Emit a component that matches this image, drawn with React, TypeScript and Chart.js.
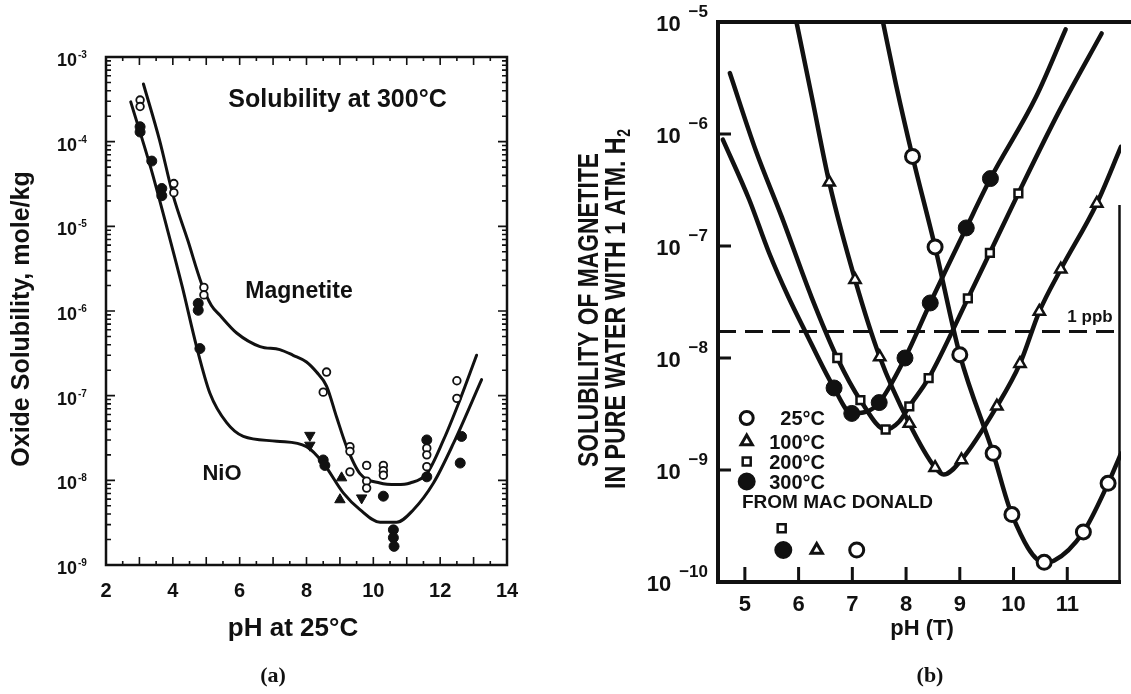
import React, { useEffect, useRef } from "react";
import { Chart, registerables } from "chart.js";

Chart.register(...registerables);

const INK = "#111111";
const FONT = '"Liberation Sans", Arial, Helvetica, sans-serif';
const SERIF = '"Liberation Serif", "Times New Roman", serif';

// ---------------- Panel (a): Solubility at 300°C ----------------
const aXTicks = [2, 4, 6, 8, 10, 12, 14];
const aYExponents = [-3, -4, -5, -6, -7, -8, -9];

const aMagnetiteCurvePH = [3.12, 3.6, 4.01, 4.45, 4.86, 5.15, 5.41, 5.91, 6.61, 7.2, 7.6, 8.0, 8.3, 8.6, 8.9, 9.2, 9.6, 10.2, 10.7, 11.1, 11.6, 12.1, 12.59, 13.09];
const aMagnetiteCurve = [4.8e-4, 1.05e-4, 2.3e-5, 6.8e-6, 2.1e-6, 1.17e-6, 8.9e-7, 5.5e-7, 3.8e-7, 3.5e-7, 3.0e-7, 2.5e-7, 1.9e-7, 1.3e-7, 5.6e-8, 2.5e-8, 1.2e-8, 9.3e-9, 8.9e-9, 9.3e-9, 1.2e-8, 3.0e-8, 8.9e-8, 3.0e-7];

const aNiOCurvePH = [2.74, 3.34, 3.84, 4.28, 4.71, 5.11, 5.61, 6.11, 7.11, 8.0, 8.5, 9.1, 9.6, 10.2, 10.7, 11.2, 11.8, 12.4, 13.24];
const aNiOCurve = [2.95e-4, 4.9e-5, 9.1e-6, 1.95e-6, 3.8e-7, 1.07e-7, 4.8e-8, 3.3e-8, 2.9e-8, 2.5e-8, 1.6e-8, 7.1e-9, 4.5e-9, 3.2e-9, 3.2e-9, 4.5e-9, 9.3e-9, 2.75e-8, 1.55e-7];

const aOpenPH = [3.02, 3.02, 4.03, 4.03, 4.93, 4.93, 8.6, 8.5, 9.3, 9.3, 9.3, 9.8, 9.8, 9.8, 10.3, 10.3, 10.3, 11.6, 11.6, 11.6, 12.5, 12.5];
const aOpen = [3.1e-4, 2.6e-4, 3.2e-5, 2.5e-5, 1.9e-6, 1.55e-6, 1.9e-7, 1.1e-7, 2.5e-8, 2.2e-8, 1.26e-8, 1.5e-8, 9.8e-9, 8.1e-9, 1.5e-8, 1.3e-8, 1.15e-8, 2.4e-8, 2.0e-8, 1.45e-8, 1.5e-7, 9.3e-8];

const aFilledPH = [3.02, 3.02, 3.37, 3.67, 3.67, 4.76, 4.76, 4.81, 8.5, 8.55, 10.3, 10.6, 10.6, 10.62, 11.6, 11.6, 12.64, 12.6];
const aFilled = [1.5e-4, 1.3e-4, 5.9e-5, 2.8e-5, 2.3e-5, 1.23e-6, 1.02e-6, 3.6e-7, 1.74e-8, 1.5e-8, 6.5e-9, 2.6e-9, 2.1e-9, 1.66e-9, 3.0e-8, 1.1e-8, 3.3e-8, 1.6e-8];

const aTriDownPH = [8.1, 8.1, 9.65];
const aTriDown = [3.4e-8, 2.6e-8, 6.2e-9];

const aTriUpPH = [9.05, 9.0];
const aTriUp = [1.07e-8, 5.9e-9];

// ---------------- Panel (b): Magnetite in pure water with 1 atm H2 ----------------
const bXTicks = [5, 6, 7, 8, 9, 10, 11];
const bYExponents = [-5, -6, -7, -8, -9, -10];
const bLegendLabels = ["25°C", "100°C", "200°C", "300°C"];
const ppbLevel = 1.72e-8;

const b300CurvePH = [4.59, 5.08, 5.45, 5.81, 6.11, 6.66, 6.99, 7.25, 7.5, 7.98, 8.45, 9.12, 9.57, 10.42, 10.97];
const b300Curve = [8.9e-7, 2.6e-7, 8.7e-8, 3.5e-8, 1.78e-8, 5.4e-9, 3.2e-9, 3.3e-9, 4.0e-9, 1.0e-8, 3.1e-8, 1.45e-7, 4.0e-7, 2.15e-6, 8.6e-6];
const b300MarkPH = [6.66, 6.99, 7.5, 7.98, 8.45, 9.12, 9.57];
const b300Mark = [5.4e-9, 3.2e-9, 4.0e-9, 1.0e-8, 3.1e-8, 1.45e-7, 4.0e-7];

const b200CurvePH = [4.72, 5.2, 5.69, 6.24, 6.72, 7.15, 7.62, 7.87, 8.06, 8.42, 9.15, 9.56, 10.09, 10.85, 11.64];
const b200Curve = [3.5e-6, 7.2e-7, 1.8e-7, 3.5e-8, 1.0e-8, 4.2e-9, 2.3e-9, 2.7e-9, 3.7e-9, 6.6e-9, 3.4e-8, 8.7e-8, 2.95e-7, 1.6e-6, 7.9e-6];
const b200MarkPH = [6.72, 7.15, 7.62, 8.06, 8.42, 9.15, 9.56, 10.09];
const b200Mark = [1.0e-8, 4.2e-9, 2.3e-9, 3.7e-9, 6.6e-9, 3.4e-8, 8.7e-8, 2.95e-7];

const b100CurvePH = [5.96, 6.25, 6.57, 7.05, 7.51, 8.06, 8.54, 8.7, 9.03, 9.69, 10.12, 10.48, 10.88, 11.55, 12.0];
const b100Curve = [1.0e-5, 2.1e-6, 3.7e-7, 5.0e-8, 1.02e-8, 2.6e-9, 1.05e-9, 9.1e-10, 1.23e-9, 3.7e-9, 8.9e-9, 2.6e-8, 6.2e-8, 2.4e-7, 7.7e-7];
const b100MarkPH = [6.57, 7.05, 7.51, 8.06, 8.54, 9.03, 9.69, 10.12, 10.48, 10.88, 11.55];
const b100Mark = [3.7e-7, 5.0e-8, 1.02e-8, 2.6e-9, 1.05e-9, 1.23e-9, 3.7e-9, 8.9e-9, 2.6e-8, 6.2e-8, 2.4e-7];

const b25CurvePH = [7.57, 7.81, 8.12, 8.54, 9.0, 9.62, 9.97, 10.57, 10.75, 11.3, 11.76, 12.0];
const b25Curve = [1.0e-5, 2.8e-6, 6.3e-7, 9.8e-8, 1.07e-8, 1.41e-9, 4.0e-10, 1.5e-10, 1.55e-10, 2.8e-10, 7.6e-10, 1.4e-9];
const b25MarkPH = [8.12, 8.54, 9.0, 9.62, 9.97, 10.57, 11.3, 11.76];
const b25Mark = [6.3e-7, 9.8e-8, 1.07e-8, 1.41e-9, 4.0e-10, 1.5e-10, 2.8e-10, 7.6e-10];

// ---------------- helpers ----------------
const pts = (xs: number[], ys: number[]) => xs.map((x, i) => ({ x, y: ys[i] }));

function curve(xs: number[], ys: number[], width: number, extra: any = {}) {
  return {
    data: pts(xs, ys),
    showLine: true,
    borderColor: INK,
    backgroundColor: INK,
    borderWidth: width,
    pointRadius: 0,
    pointHoverRadius: 0,
    cubicInterpolationMode: "monotone",
    borderCapStyle: "round",
    borderJoinStyle: "round",
    fill: false,
    ...extra,
  };
}

function marks(xs: number[], ys: number[], style: string, radius: number, fillColor: string, bw: number, rotation = 0) {
  return {
    data: pts(xs, ys),
    showLine: false,
    pointStyle: style,
    pointRadius: radius,
    pointHoverRadius: radius,
    pointBackgroundColor: fillColor,
    pointBorderColor: INK,
    pointBorderWidth: bw,
    pointRotation: rotation,
    borderColor: INK,
    backgroundColor: fillColor,
    clip: false,
  };
}

function drawSym(ctx: CanvasRenderingContext2D, kind: string, x: number, y: number, r: number, lw: number) {
  ctx.save();
  ctx.lineWidth = lw;
  ctx.strokeStyle = INK;
  ctx.fillStyle = kind === "filled" ? INK : "#ffffff";
  ctx.beginPath();
  if (kind === "open" || kind === "filled") {
    ctx.arc(x, y, r, 0, Math.PI * 2);
  } else if (kind === "tri") {
    for (let i = 0; i < 3; i++) {
      const a = -Math.PI / 2 + (i * 2 * Math.PI) / 3;
      const px = x + Math.cos(a) * r;
      const py = y + Math.sin(a) * r;
      if (i === 0) ctx.moveTo(px, py);
      else ctx.lineTo(px, py);
    }
    ctx.closePath();
  } else {
    ctx.rect(x - r, y - r, 2 * r, 2 * r);
  }
  ctx.fill();
  ctx.stroke();
  ctx.restore();
}

function fittedRotated(ctx: CanvasRenderingContext2D, text: string, sub: string, cx: number, cy: number, size: number, len: number) {
  ctx.save();
  ctx.translate(cx, cy);
  ctx.rotate(-Math.PI / 2);
  ctx.font = `bold ${size}px ${FONT}`;
  const w1 = ctx.measureText(text).width;
  ctx.font = `bold ${Math.round(size * 0.6)}px ${FONT}`;
  const w2 = sub ? ctx.measureText(sub).width + 1 : 0;
  const s = len / (w1 + w2);
  ctx.scale(s, 1);
  const start = -(w1 + w2) / 2;
  ctx.textAlign = "left";
  ctx.textBaseline = "alphabetic";
  ctx.font = `bold ${size}px ${FONT}`;
  ctx.fillText(text, start, size * 0.36);
  if (sub) {
    ctx.font = `bold ${Math.round(size * 0.6)}px ${FONT}`;
    ctx.fillText(sub, start + w1 + 1, size * 0.36 + size * 0.18);
  }
  ctx.restore();
}

// ---------------- Panel (a) decorations ----------------
const panelAPlugin = {
  id: "panelADecor",
  afterDraw(chart: any) {
    const { ctx, chartArea: ca } = chart;
    const sx = chart.scales.x;
    const sy = chart.scales.y;
    ctx.save();
    ctx.strokeStyle = INK;
    ctx.fillStyle = INK;

    // inward minor/major ticks on all four sides
    ctx.lineWidth = 1.6;
    ctx.beginPath();
    const eMin = Math.min(...aYExponents);
    const eMax = Math.max(...aYExponents);
    for (let e = eMin; e < eMax; e++) {
      for (let k = 1; k < 10; k++) {
        const y = sy.getPixelForValue(k * Math.pow(10, e));
        const len = k === 1 ? 9 : 5;
        ctx.moveTo(ca.left, y);
        ctx.lineTo(ca.left + len, y);
        ctx.moveTo(ca.right, y);
        ctx.lineTo(ca.right - len, y);
      }
    }
    const x0 = aXTicks[0];
    const x1 = aXTicks[aXTicks.length - 1];
    for (let v = x0; v <= x1 + 1e-9; v += 0.5) {
      const x = sx.getPixelForValue(v);
      const len = Math.abs(v - Math.round(v)) < 1e-9 ? 8 : 4;
      ctx.moveTo(x, ca.bottom);
      ctx.lineTo(x, ca.bottom - len);
      ctx.moveTo(x, ca.top);
      ctx.lineTo(x, ca.top + len);
    }
    ctx.stroke();

    // frame
    ctx.lineWidth = 2.5;
    ctx.strokeRect(ca.left, ca.top, ca.right - ca.left, ca.bottom - ca.top);

    // y tick labels 10^n
    for (const e of aYExponents) {
      const y = sy.getPixelForValue(Math.pow(10, e));
      ctx.font = `bold 18px ${FONT}`;
      ctx.textAlign = "right";
      ctx.textBaseline = "alphabetic";
      ctx.fillText("10", ca.left - 29, y + 9);
      ctx.font = `bold 10px ${FONT}`;
      ctx.textAlign = "left";
      ctx.fillText(`-${Math.abs(e)}`, ca.left - 28, y + 1);
    }

    // x tick labels
    ctx.font = `bold 20px ${FONT}`;
    ctx.textAlign = "center";
    ctx.textBaseline = "alphabetic";
    for (const v of aXTicks) {
      ctx.fillText(String(v), sx.getPixelForValue(v), ca.bottom + 32);
    }

    // axis titles
    ctx.font = `bold 26px ${FONT}`;
    ctx.fillText("pH at 25°C", 293, 636);

    ctx.save();
    ctx.translate(22.5, 319);
    ctx.rotate(-Math.PI / 2);
    ctx.font = `bold 25px ${FONT}`;
    ctx.textAlign = "center";
    ctx.textBaseline = "middle";
    ctx.fillText("Oxide Solubility, mole/kg", 0, 0);
    ctx.restore();

    // annotations
    ctx.textAlign = "center";
    ctx.textBaseline = "alphabetic";
    ctx.font = `bold 25px ${FONT}`;
    ctx.fillText("Solubility at 300°C", 337.5, 107);
    ctx.font = `bold 23px ${FONT}`;
    ctx.fillText("Magnetite", 299, 298);
    ctx.font = `bold 22px ${FONT}`;
    ctx.fillText("NiO", 222, 480);

    ctx.font = `bold 22px ${SERIF}`;
    ctx.textBaseline = "middle";
    ctx.fillText("(a)", 273, 676);
    ctx.restore();
  },
};

// ---------------- Panel (b) decorations ----------------
const panelBPlugin = {
  id: "panelBDecor",
  afterDraw(chart: any) {
    const { ctx, chartArea: ca } = chart;
    const sx = chart.scales.x;
    const sy = chart.scales.y;
    ctx.save();
    ctx.strokeStyle = INK;
    ctx.fillStyle = INK;

    // frame (heavy left/top/bottom, lighter partial right)
    ctx.lineWidth = 4;
    ctx.beginPath();
    ctx.moveTo(ca.left, ca.bottom);
    ctx.lineTo(ca.left, ca.top);
    ctx.lineTo(chart.width, ca.top);
    ctx.moveTo(ca.left - 2, ca.bottom);
    ctx.lineTo(ca.right, ca.bottom);
    ctx.stroke();
    ctx.lineWidth = 2.5;
    ctx.beginPath();
    ctx.moveTo(ca.right - 1.5, ca.top + 183);
    ctx.lineTo(ca.right - 1.5, ca.bottom);
    ctx.stroke();

    // inward ticks
    ctx.lineWidth = 3;
    ctx.beginPath();
    for (const e of bYExponents.slice(1, -1)) {
      const y = sy.getPixelForValue(Math.pow(10, e));
      ctx.moveTo(ca.left, y);
      ctx.lineTo(ca.left + 13, y);
    }
    for (const v of bXTicks) {
      const x = sx.getPixelForValue(v);
      ctx.moveTo(x, ca.bottom);
      ctx.lineTo(x, ca.bottom - 15);
    }
    ctx.stroke();

    // y tick labels 10^n
    for (const e of bYExponents) {
      const y = sy.getPixelForValue(Math.pow(10, e));
      const expText = `\u2212${Math.abs(e)}`;
      ctx.font = `bold 17px ${FONT}`;
      const w = ctx.measureText(expText).width;
      ctx.textAlign = "right";
      ctx.textBaseline = "alphabetic";
      ctx.fillText(expText, ca.left - 10, y - 5);
      ctx.font = `bold 22px ${FONT}`;
      ctx.fillText("10", ca.left - 10 - w - 8, y + 9);
    }

    // x tick labels
    ctx.font = `bold 22px ${FONT}`;
    ctx.textAlign = "center";
    for (const v of bXTicks) {
      ctx.fillText(String(v), sx.getPixelForValue(v), ca.bottom + 29);
    }
    ctx.fillText("pH (T)", 362, 635);

    // y title (two condensed lines)
    fittedRotated(ctx, "SOLUBILITY OF MAGNETITE", "", 27, 310, 30, 314);
    fittedRotated(ctx, "IN PURE WATER WITH 1 ATM. H", "2", 54, 309, 30, 360);

    // 1 ppb label
    ctx.font = `bold 17px ${FONT}`;
    ctx.textAlign = "center";
    ctx.fillText("1 ppb", 530, 322);

    // in-plot legend
    const kinds = ["open", "tri", "sq", "filled"];
    const rowY = [418, 441.5, 461.5, 481.5];
    const radii = [6.5, 6.5, 4, 7.5];
    kinds.forEach((k, i) => {
      drawSym(ctx, k, 186.7, rowY[i], radii[i], k === "sq" ? 2.5 : 3);
      ctx.fillStyle = INK;
      ctx.font = `bold 20px ${FONT}`;
      ctx.textAlign = "right";
      ctx.textBaseline = "alphabetic";
      ctx.fillText(bLegendLabels[i], 265, rowY[i] + 7);
    });
    ctx.font = `bold 19px ${FONT}`;
    ctx.textAlign = "left";
    ctx.fillText("FROM MAC DONALD", 182, 508);
    drawSym(ctx, "sq", 221.7, 528.3, 4, 2.5);
    drawSym(ctx, "filled", 223.3, 550, 7.5, 3);
    drawSym(ctx, "tri", 256.7, 550, 6.5, 3);
    drawSym(ctx, "open", 296.7, 550, 7, 3);

    ctx.fillStyle = INK;
    ctx.font = `bold 22px ${SERIF}`;
    ctx.textAlign = "center";
    ctx.textBaseline = "middle";
    ctx.fillText("(b)", 370, 676);
    ctx.restore();
  },
};

function configA(): any {
  return {
    type: "scatter",
    data: {
      datasets: [
        marks(aOpenPH, aOpen, "circle", 3.8, "#ffffff", 1.8),
        marks(aFilledPH, aFilled, "circle", 5, INK, 1),
        marks(aTriDownPH, aTriDown, "triangle", 6, INK, 1, 180),
        marks(aTriUpPH, aTriUp, "triangle", 6, INK, 1, 0),
        curve(aMagnetiteCurvePH, aMagnetiteCurve, 3),
        curve(aNiOCurvePH, aNiOCurve, 3),
      ],
    },
    options: {
      animation: false,
      responsive: false,
      maintainAspectRatio: false,
      devicePixelRatio: 1,
      events: [],
      layout: { padding: { left: 106, top: 57, right: 53, bottom: 129 } },
      plugins: { legend: { display: false }, tooltip: { enabled: false }, title: { display: false } },
      scales: {
        x: { type: "linear", min: 2, max: 14, display: false },
        y: { type: "logarithmic", min: 1e-9, max: 1e-3, display: false },
      },
    },
    plugins: [panelAPlugin],
  };
}

function configB(): any {
  return {
    type: "scatter",
    data: {
      datasets: [
        marks(b25MarkPH, b25Mark, "circle", 7, "#ffffff", 3),
        marks(b100MarkPH, b100Mark, "triangle", 6.5, "#ffffff", 2.5),
        marks(b200MarkPH, b200Mark, "rect", 5.5, "#ffffff", 2.5),
        marks(b300MarkPH, b300Mark, "circle", 8, INK, 1),
        curve(b25CurvePH, b25Curve, 4.5),
        curve(b100CurvePH, b100Curve, 4.5),
        curve(b200CurvePH, b200Curve, 4.5),
        curve(b300CurvePH, b300Curve, 4.5),
        curve([bXTicks[0] - 0.5, 12], [ppbLevel, ppbLevel], 3, { borderDash: [18, 9], cubicInterpolationMode: "default", borderCapStyle: "butt" }),
      ],
    },
    options: {
      animation: false,
      responsive: false,
      maintainAspectRatio: false,
      devicePixelRatio: 1,
      events: [],
      layout: { padding: { left: 158, top: 22, right: 1, bottom: 112 } },
      plugins: { legend: { display: false }, tooltip: { enabled: false }, title: { display: false } },
      scales: {
        x: { type: "linear", min: 4.5, max: 12, display: false },
        y: { type: "logarithmic", min: 1e-10, max: 1e-5, display: false },
      },
    },
    plugins: [panelBPlugin],
  };
}

export default function App() {
  const refA = useRef<HTMLCanvasElement>(null);
  const refB = useRef<HTMLCanvasElement>(null);

  useEffect(() => {
    const chartA = new Chart(refA.current as HTMLCanvasElement, configA());
    const chartB = new Chart(refB.current as HTMLCanvasElement, configB());
    return () => {
      chartA.destroy();
      chartB.destroy();
    };
  }, []);

  return (
    <div style={{ position: "absolute", left: 0, top: 0, width: 1131, height: 694, background: "#ffffff", overflow: "hidden" }}>
      <canvas ref={refA} width={560} height={694} style={{ position: "absolute", left: 0, top: 0, width: 560, height: 694 }} />
      <canvas ref={refB} width={571} height={694} style={{ position: "absolute", left: 560, top: 0, width: 571, height: 694 }} />
    </div>
  );
}
